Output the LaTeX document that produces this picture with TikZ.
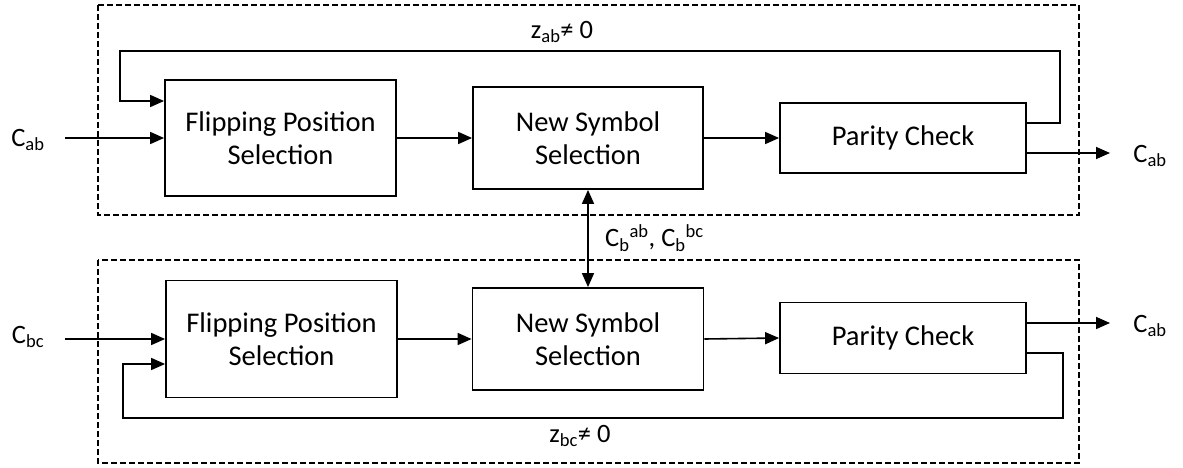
\documentclass[tikz,border=0pt]{standalone}
\usepackage{fontspec}
\setmainfont{Carlito}
\usetikzlibrary{arrows.meta}
\begin{document}
\begin{tikzpicture}[x=1pt,y=-1pt,
  block/.style={draw,line width=1.8pt,align=center,inner sep=0pt,
    font=\fontsize{28.5}{33}\selectfont},
  group/.style={draw,line width=1.3pt,dash pattern=on 6pt off 3pt},
  wire/.style={line width=1.6pt},
  flow/.style={wire,-{Triangle[length=14pt,width=12pt]}},
  both/.style={wire,{Triangle[length=14pt,width=12pt]}-{Triangle[length=14pt,width=12pt]}},
  lbl/.style={font=\fontsize{26.5}{30}\selectfont,inner sep=0pt}]
\useasboundingbox (0,0) rectangle (1183,468);

% dashed groups
\draw[group] (98,5) rectangle (1079,215);
\draw[group] (98,260) rectangle (1079,463);

% upper chain
\node[block,minimum width=231pt,minimum height=116pt] (fps1) at (280.5,138) {Flipping Position\\Selection};
\node[block,minimum width=230pt,minimum height=102pt] (nss1) at (588,138) {New Symbol\\Selection};
\node[block,minimum width=246pt,minimum height=70pt] (pc1) at (903,138) {Parity Check};

% lower chain
\node[block,minimum width=231pt,minimum height=117pt] (fps2) at (281.5,339) {Flipping Position\\Selection};
\node[block,minimum width=231pt,minimum height=102pt] (nss2) at (588,339) {New Symbol\\Selection};
\node[block,minimum width=246pt,minimum height=71pt] (pc2) at (903,338) {Parity Check};

% labels
\node[lbl] (inAlbl) at (28,140) {C\textsubscript{ab}};
\node[lbl] (inBlbl) at (28,337) {C\textsubscript{bc}};
\node[lbl] (outAlbl) at (1150,156) {C\textsubscript{ab}};
\node[lbl] (outBlbl) at (1150,326) {C\textsubscript{ab}};
\node[lbl] (zab) at (562,32) {z\textsubscript{ab}≠ 0};
\node[lbl] (zbc) at (580,436) {z\textsubscript{bc}≠ 0};
\node[lbl,anchor=west] (cb) at (605,238) {C\textsubscript{b}\textsuperscript{ab}, C\textsubscript{b}\textsuperscript{bc}};

% connector end points
\coordinate (inA) at (65,138);
\coordinate (inB) at (65,339);
\coordinate (outA) at (1110,153);
\coordinate (outB) at (1110,323);

% upper connectors
\draw[flow] (inA) -- (fps1.west);
\draw[flow] (fps1.east) -- (nss1.west);
\draw[flow] (nss1.east) -- (pc1.west);
\draw[flow] ([yshift=-15pt]pc1.east) -- (outA);
\draw[flow] ([yshift=15pt]pc1.east) -| (1060,51) -| (120,101) -- ([yshift=37pt]fps1.west);

% lower connectors
\draw[flow] (inB) -- (fps2.west);
\draw[flow] (fps2.east) -- (nss2.west);
\draw[flow] (nss2.east) -- (pc2.west);
\draw[flow] ([yshift=15pt]pc2.east) -- (outB);
\draw[flow] ([yshift=-15pt]pc2.east) -| (1063,418) -| (123,364) -- ([yshift=-25pt]fps2.west);

% exchange between the two symbol selectors
\draw[both] (nss1.south) -- (nss2.north);
\end{tikzpicture}
\end{document}
